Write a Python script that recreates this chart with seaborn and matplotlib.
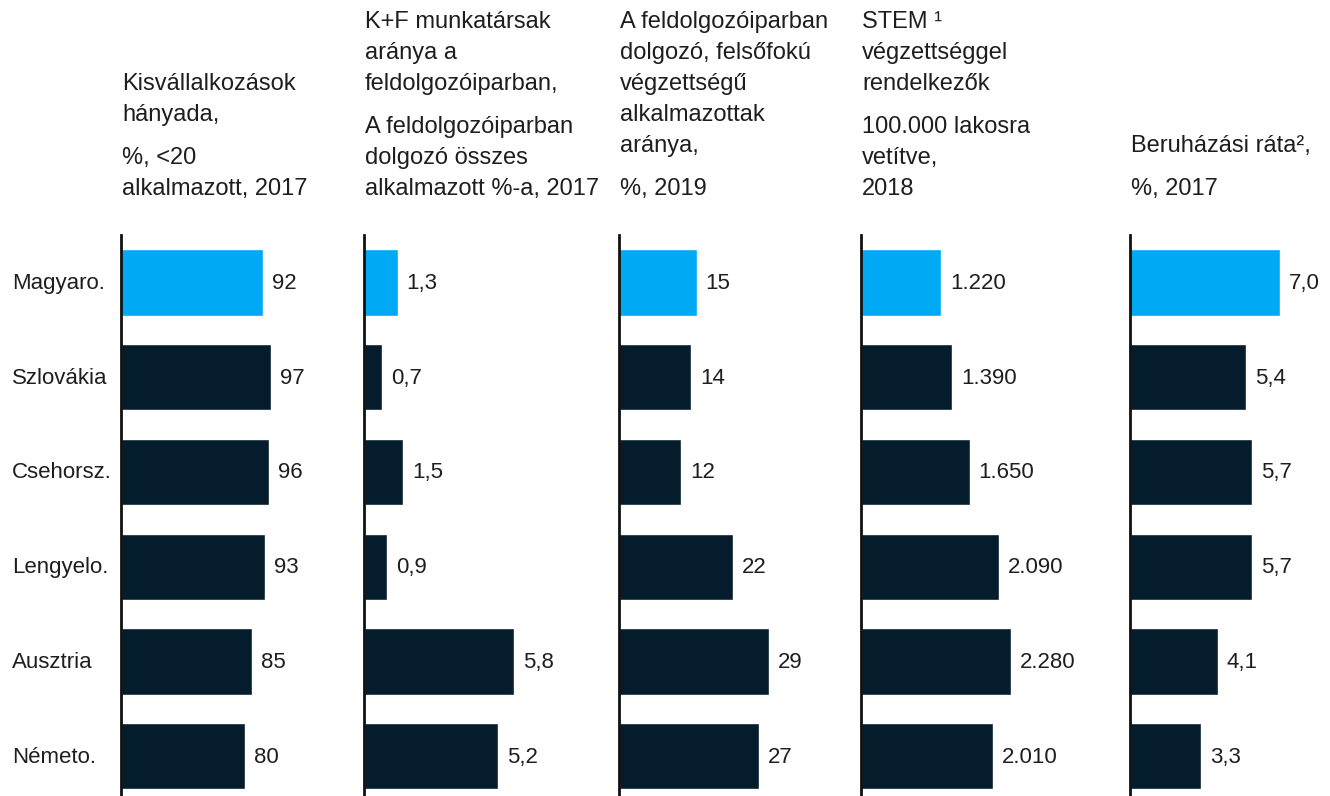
import matplotlib
matplotlib.use("Agg")
import matplotlib.pyplot as plt
import seaborn as sns
import pandas as pd

sns.set_theme(style="white")
plt.rcParams['font.family'] = ['Liberation Sans', 'DejaVu Sans']

# ---- data ----
countries = ["Magyaro.", "Szlovákia", "Csehorsz.", "Lengyelo.", "Ausztria", "Németo."]
small_business = [92, 97, 96, 93, 85, 80]
rnd_staff = [1.3, 0.7, 1.5, 0.9, 5.8, 5.2]
tertiary_share = [15, 14, 12, 22, 29, 27]
stem_grads = [1220, 1390, 1650, 2090, 2280, 2010]
investment_rate = [7.0, 5.4, 5.7, 5.7, 4.1, 3.3]

titles = [
    ["Kisvállalkozások", "hányada,"],
    ["K+F munkatársak", "aránya a", "feldolgozóiparban,"],
    ["A feldolgozóiparban", "dolgozó, felsőfokú", "végzettségű", "alkalmazottak", "aránya,"],
    ["STEM ¹", "végzettséggel", "rendelkezők"],
    ["Beruházási ráta²,"],
]
subtitles = [
    ["%, <20", "alkalmazott, 2017"],
    ["A feldolgozóiparban", "dolgozó összes", "alkalmazott %-a, 2017"],
    ["%, 2019"],
    ["100.000 lakosra", "vetítve,", "2018"],
    ["%, 2017"],
]


def fmt_int(v):
    return f"{v:.0f}"


def fmt_dec(v):
    return f"{v:.1f}".replace(".", ",")


def fmt_thou(v):
    return f"{v:,.0f}".replace(",", ".")


series = [small_business, rnd_staff, tertiary_share, stem_grads, investment_rate]
formatters = [fmt_int, fmt_dec, fmt_int, fmt_thou, fmt_dec]

HIGHLIGHT = "#00A9F4"
DARK = "#051C2C"
TEXT = "#1E1E1E"
colors = [HIGHLIGHT] + [DARK] * (len(countries) - 1)

W, H = 1330, 796
fig = plt.figure(figsize=(W / 100, H / 100), dpi=100)

axes_left = [121, 364, 619, 861, 1130]
ax_w = 200
ax_top = 235
FS = 16
HFS = 17

for k, (vals, fmt) in enumerate(zip(series, formatters)):
    left = axes_left[k]
    ax = fig.add_axes([left / W, 0, ax_w / W, (H - ax_top) / H])
    df = pd.DataFrame({"country": countries, "value": vals})
    sns.barplot(data=df, x="value", y="country", hue="country",
                palette=colors, legend=False, orient="h", width=0.7,
                saturation=1, ax=ax)
    ax.set_ylim(5.42, -0.5)
    ax.set_xlim(0, max(vals) * ax_w / 150)
    for s in ["top", "right", "bottom"]:
        ax.spines[s].set_visible(False)
    ax.spines["left"].set_color("#111111")
    ax.spines["left"].set_linewidth(2)
    ax.set_xticks([])
    ax.set_yticks([])
    ax.set_xlabel("")
    ax.set_ylabel("")
    ax.patch.set_alpha(0)

    for i, v in enumerate(vals):
        ax.annotate(fmt(v), xy=(v, i), xytext=(9, -1), textcoords="offset pixels",
                    ha="left", va="center", fontsize=FS, color=TEXT,
                    annotation_clip=False)
        if k == 0:
            ax.annotate(countries[i], xy=(12 / W, i), xycoords=("figure fraction", "data"),
                        xytext=(0, -1), textcoords="offset pixels",
                        ha="left", va="center", fontsize=FS, color=TEXT,
                        annotation_clip=False)

    # header text, bottom aligned
    base = 195
    step = 31
    gap = 43
    sub = subtitles[k]
    ys = []
    for j, line in enumerate(reversed(sub)):
        y = base - j * step
        fig.text((left + 1) / W, 1 - y / H, line, ha="left", va="baseline",
                 fontsize=HFS, color=TEXT)
        ys.append(y)
    top_sub = min(ys)
    for j, line in enumerate(reversed(titles[k])):
        y = top_sub - gap - j * step
        fig.text((left + 1) / W, 1 - y / H, line, ha="left", va="baseline",
                 fontsize=HFS, color=TEXT)

fig.savefig("out.png", dpi=100)
